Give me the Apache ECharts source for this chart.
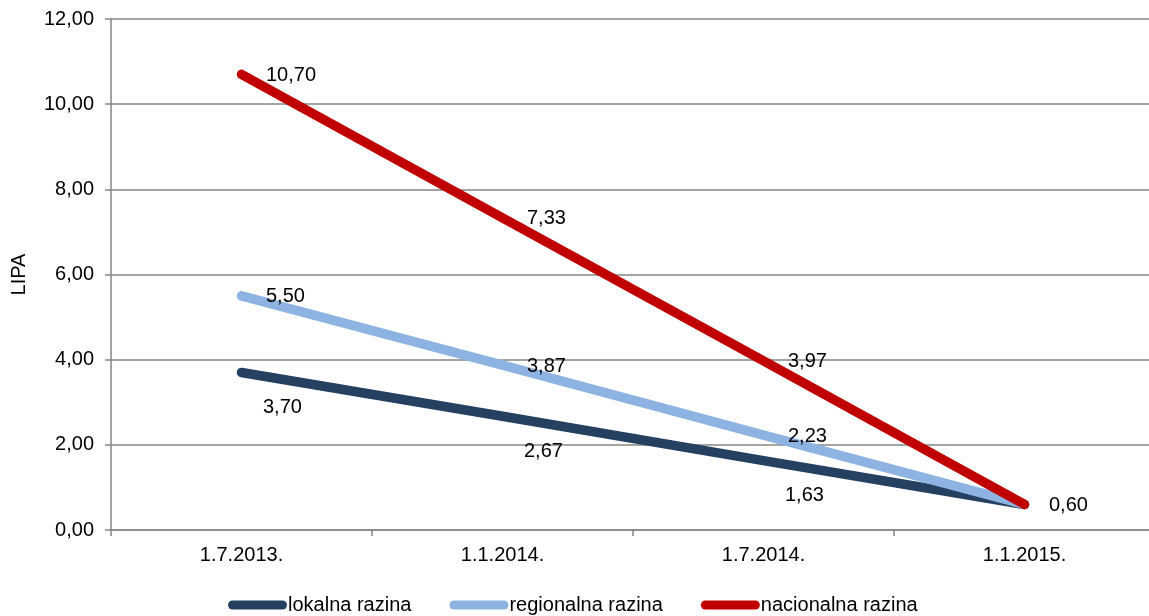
<!DOCTYPE html>
<html><head><meta charset="utf-8">
<script src="https://cdn.jsdelivr.net/npm/echarts@6/dist/echarts.min.js"></script>
<style>html,body{margin:0;padding:0;background:#fff}#c{width:1149px;height:616px}</style>
</head><body><div id="c"></div>
<script>
const categories = ['1.7.2013.', '1.1.2014.', '1.7.2014.', '1.1.2015.'];
const lokalna = [3.70, 2.67, 1.63, 0.60];
const regionalna = [5.50, 3.87, 2.23, 0.60];
const nacionalna = [10.70, 7.33, 3.97, 0.60];
const seriesNames = ['lokalna razina', 'regionalna razina', 'nacionalna razina'];
const yTicks = {min: 0, max: 12, interval: 2};

const fmt = v => v.toFixed(2).replace('.', ',');
const font = 'Liberation Sans, Arial, sans-serif';
const FS = 20;
const chart = echarts.init(document.getElementById('c'));
const mk = (name, data, color, label, lastLabel) => ({
  name, type: 'line', data, symbol: 'circle', symbolSize: 1, showSymbol: true,
  itemStyle: {color}, lineStyle: {color, width: 9.5, cap: 'round', join: 'round'},
  z: 2, silent: true, animation: false,
  label: Object.assign({show: true, color: '#000', fontSize: FS, fontFamily: font,
    formatter: p => (p.dataIndex === data.length - 1 && !lastLabel) ? '' : fmt(p.value)}, label)
});
chart.setOption({
  backgroundColor: '#fff',
  animation: false,
  grid: {left: 111, top: 19, width: 1044, bottom: 86, containLabel: false, outerBoundsMode: 'none'},
  legend: {
    top: 590, left: 223, itemWidth: 59, itemHeight: 9, itemGap: 38,
    textStyle: {fontSize: FS, fontFamily: font, color: '#000', padding: [0, 0, 0, -4]},
    data: seriesNames.map(n => ({name: n, icon: 'path://M4.5,0 L54.5,0 A4.5,4.5 0 0 1 54.5,9 L4.5,9 A4.5,4.5 0 0 1 4.5,0 Z'}))
  },
  xAxis: {
    type: 'category', data: categories, boundaryGap: true,
    axisLine: {lineStyle: {color: '#868686', width: 1.5}},
    axisTick: {show: true, length: 6, lineStyle: {color: '#868686', width: 1.5}},
    axisLabel: {fontSize: FS, fontFamily: font, color: '#000', margin: 15}
  },
  yAxis: {
    type: 'value', min: yTicks.min, max: yTicks.max, interval: yTicks.interval,
    name: 'LIPA', nameLocation: 'middle', nameGap: 82, nameRotate: 90,
    nameTextStyle: {fontSize: FS, fontFamily: font, color: '#000'},
    axisLine: {show: true, lineStyle: {color: '#868686', width: 1.5}},
    axisTick: {show: true, length: 6, lineStyle: {color: '#868686', width: 1.5}},
    splitLine: {lineStyle: {color: '#868686', width: 1.5}},
    axisLabel: {fontSize: FS, fontFamily: font, color: '#000', margin: 17, formatter: v => fmt(v)}
  },
  series: [
    mk(seriesNames[0], lokalna, '#254061', {position: 'right', distance: 21, offset: [0, 35]}, false),
    mk(seriesNames[1], regionalna, '#8DB3E2', {position: 'right', distance: 24, offset: [0, 1]}, false),
    mk(seriesNames[2], nacionalna, '#C00000', {position: 'right', distance: 24, offset: [0, 1]}, true)
  ]
});
</script></body></html>
